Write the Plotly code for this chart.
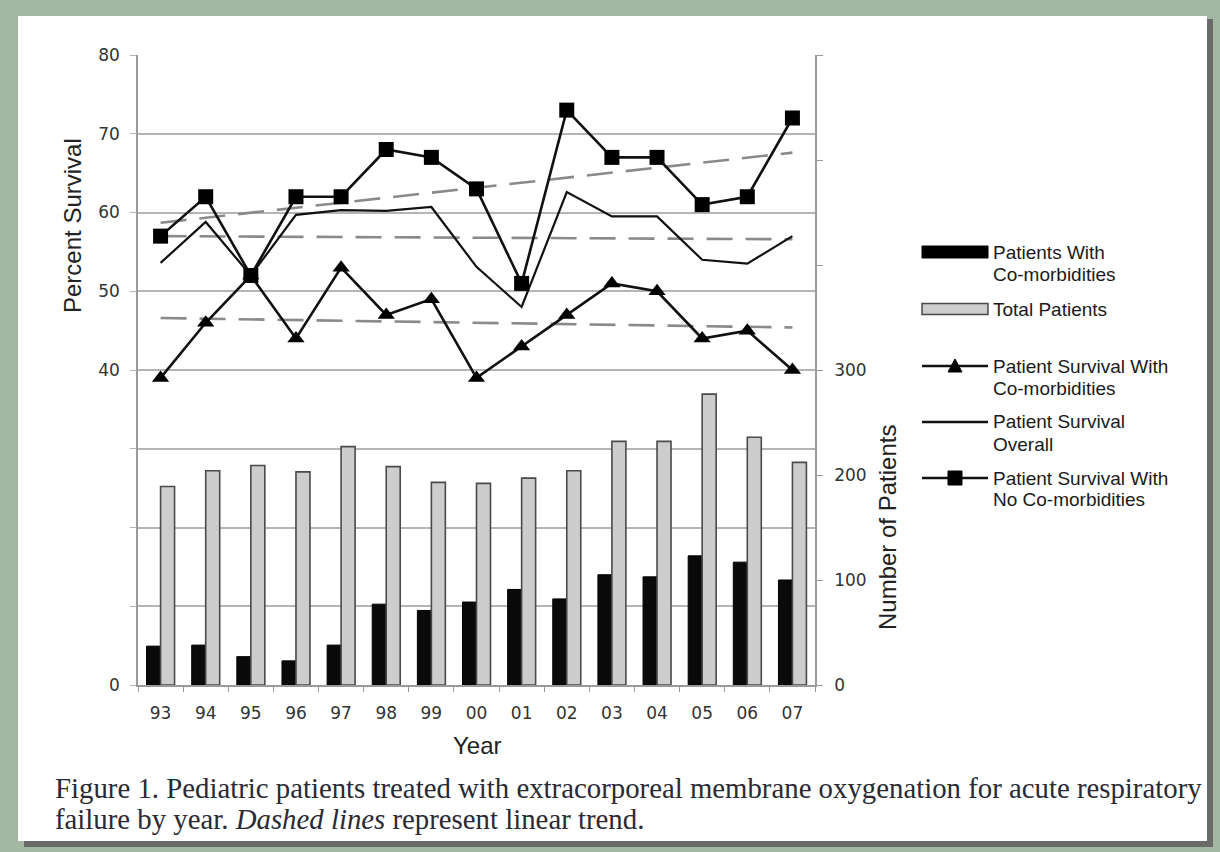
import plotly.graph_objects as go

# ---------------- data ----------------
years = ["93", "94", "95", "96", "97", "98", "99", "00", "01", "02", "03", "04", "05", "06", "07"]
patients_comorbid = [37, 38, 27, 23, 38, 77, 71, 79, 91, 82, 105, 103, 123, 117, 100]
patients_total = [189, 204, 209, 203, 227, 208, 193, 192, 197, 204, 232, 232, 277, 236, 212]
surv_comorbid = [39, 46, 52, 44, 53, 47, 49, 39, 43, 47, 51, 50, 44, 45, 40]
surv_overall = [53.6, 58.8, 52, 59.7, 60.3, 60.2, 60.7, 53.1, 48.0, 62.6, 59.5, 59.5, 54.0, 53.5, 57.0]
surv_no_comorbid = [57, 62, 52, 62, 62, 68, 67, 63, 51, 73, 67, 67, 61, 62, 72]
# linear trend end points (first year, last year)
trend_no_comorbid = [58.7, 67.6]
trend_overall = [57.0, 56.6]
trend_comorbid = [46.6, 45.4]

left_ticks = [0, 10, 20, 30, 40, 50, 60, 70, 80]
left_labels = ["0", "", "", "", "40", "50", "60", "70", "80"]
right_ticks = [0, 100, 200, 300, 400, 500, 600]
right_labels = ["0", "100", "200", "300", "", "", ""]

legend_labels = [
    ["Patients With", "Co-morbidities"],
    ["Total Patients"],
    ["Patient Survival With", "Co-morbidities"],
    ["Patient Survival", "Overall"],
    ["Patient Survival With", "No Co-morbidities"],
]

# ---------------- geometry ----------------
W, H = 1220, 852
PL, PR, PT, PB = 138, 815, 55, 685


def xp(px):
    return (px - PL) / (PR - PL)


def yp(py):
    return (PB - py) / (PB - PT)


fig = go.Figure()

fig.add_trace(go.Bar(x=years, y=patients_comorbid, yaxis="y2", name="Patients With Co-morbidities",
                     marker=dict(color="#0a0a0a", line=dict(color="#000", width=1))))
fig.add_trace(go.Bar(x=years, y=patients_total, yaxis="y2", name="Total Patients",
                     marker=dict(color="#cdcdcd", line=dict(color="#4a4a4a", width=1.6))))

trend_style = dict(color="#8a8a8a", width=2.6, dash="26px,13px")
for tr in (trend_no_comorbid, trend_overall, trend_comorbid):
    fig.add_trace(go.Scatter(x=[years[0], years[-1]], y=tr, mode="lines", line=trend_style,
                             showlegend=False, hoverinfo="skip"))

fig.add_trace(go.Scatter(x=years, y=surv_overall, mode="lines", name="Patient Survival Overall",
                         line=dict(color="#111", width=2.2)))
fig.add_trace(go.Scatter(x=years, y=surv_comorbid, mode="lines+markers",
                         name="Patient Survival With Co-morbidities",
                         line=dict(color="#111", width=2.6),
                         marker=dict(symbol="triangle-up", size=15, color="#000")))
fig.add_trace(go.Scatter(x=years, y=surv_no_comorbid, mode="lines+markers",
                         name="Patient Survival With No Co-morbidities",
                         line=dict(color="#111", width=2.6),
                         marker=dict(symbol="square", size=15, color="#000")))

shapes = []
# border frame
shapes.append(dict(type="rect", xref="paper", yref="paper", x0=xp(24), x1=xp(1213), y0=yp(19), y1=yp(847),
                   fillcolor="#6a6a6a", line=dict(width=0), layer="below"))
shapes.append(dict(type="rect", xref="paper", yref="paper", x0=xp(18), x1=xp(1207), y0=yp(16), y1=yp(841),
                   fillcolor="#ffffff", line=dict(width=0), layer="below"))

# custom legend
LX0, LX1 = 922, 988
leg_y = [252, 309, 366, 422, 478]
shapes.append(dict(type="rect", xref="paper", yref="paper", x0=xp(LX0), x1=xp(LX1),
                   y0=yp(leg_y[0] - 6), y1=yp(leg_y[0] + 6), fillcolor="#000", line=dict(color="#000", width=1)))
shapes.append(dict(type="rect", xref="paper", yref="paper", x0=xp(LX0), x1=xp(LX1),
                   y0=yp(leg_y[1] - 5.5), y1=yp(leg_y[1] + 5.5), fillcolor="#cdcdcd",
                   line=dict(color="#4a4a4a", width=1.5)))
for yy in leg_y[2:]:
    shapes.append(dict(type="line", xref="paper", yref="paper", x0=xp(LX0), x1=xp(LX1),
                       y0=yp(yy), y1=yp(yy), line=dict(color="#111", width=2.6)))
mx = (LX0 + LX1) / 2
ty = leg_y[2]
shapes.append(dict(type="path", xref="paper", yref="paper",
                   path="M {} {} L {} {} L {} {} Z".format(xp(mx - 7), yp(ty + 6), xp(mx + 7), yp(ty + 6),
                                                          xp(mx), yp(ty - 7)),
                   fillcolor="#000", line=dict(color="#000", width=1)))
sy = leg_y[4]
shapes.append(dict(type="rect", xref="paper", yref="paper", x0=xp(mx - 7), x1=xp(mx + 7),
                   y0=yp(sy - 7), y1=yp(sy + 7), fillcolor="#000", line=dict(color="#000", width=1)))

annotations = []
for yy, lines in zip(leg_y, legend_labels):
    for i, t in enumerate(lines):
        annotations.append(dict(text=t, xref="paper", yref="paper", x=xp(LX1 + 3), y=yp(yy + i * 22),
                                xanchor="left", yanchor="middle", showarrow=False,
                                font=dict(family="Liberation Sans, Arial", size=19, color="#1a1a1a")))

# axis titles
title_font = dict(family="Liberation Sans, Arial", size=24, color="#222")
annotations.append(dict(text="Percent Survival", xref="paper", yref="paper", x=xp(72), y=yp(226),
                        xanchor="center", yanchor="middle", textangle=-90, showarrow=False, font=title_font))
annotations.append(dict(text="Number of Patients", xref="paper", yref="paper", x=xp(887), y=yp(527),
                        xanchor="center", yanchor="middle", textangle=-90, showarrow=False, font=title_font))
annotations.append(dict(text="Year", xref="paper", yref="paper", x=xp(477), y=yp(745),
                        xanchor="center", yanchor="middle", showarrow=False, font=title_font))
# caption
cap_font = dict(family="Liberation Serif, Times New Roman", size=28.8, color="#2a2a35")
annotations.append(dict(text="Figure 1. Pediatric patients treated with extracorporeal membrane oxygenation for acute respiratory",
                        xref="paper", yref="paper", x=xp(53), y=yp(788), xanchor="left", yanchor="middle",
                        showarrow=False, font=cap_font))
annotations.append(dict(text="failure by year. <i>Dashed lines</i> represent linear trend.",
                        xref="paper", yref="paper", x=xp(53), y=yp(819), xanchor="left", yanchor="middle",
                        showarrow=False, font=cap_font))

axis_font = dict(family="DejaVu Sans, Verdana", size=17, color="#333")
fig.update_layout(
    width=W, height=H,
    margin=dict(l=PL, r=W - PR, t=PT, b=H - PB, pad=0),
    paper_bgcolor="#a3b7a2",
    plot_bgcolor="rgba(0,0,0,0)",
    showlegend=False,
    barmode="group", bargap=0.38, bargroupgap=0.0,
    xaxis=dict(type="category", range=[-0.5, 14.5], showgrid=False, zeroline=False,
               showline=True, linecolor="#9a9a9a", linewidth=1.5,
               ticks="outside", tickson="boundaries", ticklen=5, tickcolor="#9a9a9a",
               tickfont=axis_font, ticklabelstandoff=12),
    yaxis=dict(range=[0, 80], tickvals=left_ticks, ticktext=left_labels,
               showgrid=True, gridcolor="#b5b5b5", gridwidth=1.8, zeroline=False,
               showline=True, linecolor="#9a9a9a", linewidth=1.5,
               ticks="outside", ticklen=6, tickcolor="#b5b5b5", tickfont=axis_font,
               ticklabelstandoff=7),
    yaxis2=dict(range=[0, 600], overlaying="y", side="right", tickvals=right_ticks, ticktext=right_labels,
                showgrid=False, zeroline=False, showline=True, linecolor="#9a9a9a", linewidth=1.5,
                ticks="outside", ticklen=6, tickcolor="#9a9a9a", tickfont=axis_font,
                ticklabelstandoff=8),
    shapes=shapes,
    annotations=annotations,
)

fig.write_html("out.html", config={"displayModeBar": False},
               post_script="document.body.style.margin='0';")
